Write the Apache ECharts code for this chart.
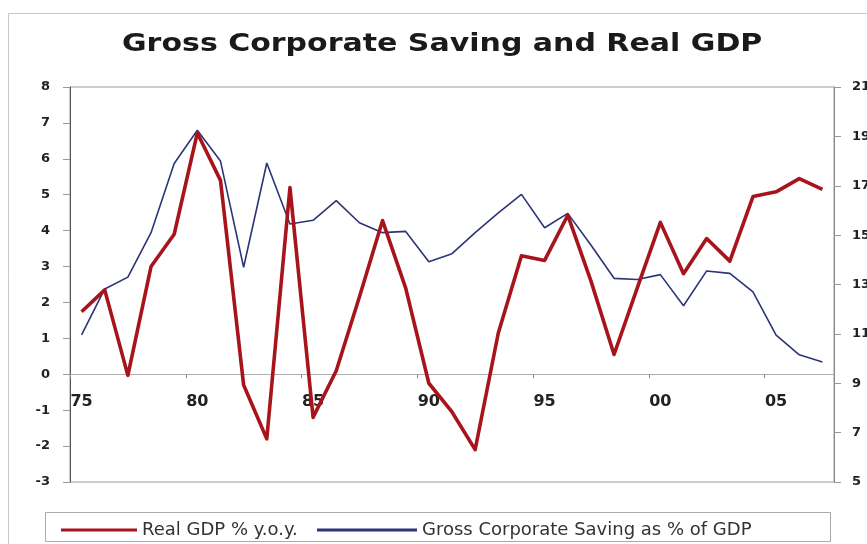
<!DOCTYPE html>
<html>
<head>
<meta charset="utf-8">
<script src="https://cdn.jsdelivr.net/npm/echarts@6/dist/echarts.min.js"></script>
<style>
html,body{margin:0;padding:0;background:#fff;}
#chart{width:867px;height:544px;}
</style>
</head>
<body>
<div id="chart"></div>
<script>
const years = [1975,1976,1977,1978,1979,1980,1981,1982,1983,1984,1985,1986,1987,1988,1989,1990,1991,1992,1993,1994,1995,1996,1997,1998,1999,2000,2001,2002,2003,2004,2005,2006,2007];
const realGDP = [1.74,2.35,-0.03,3.0,3.9,6.72,5.4,-0.3,-1.8,5.2,-1.2,0.1,2.15,4.28,2.4,-0.25,-1.05,-2.1,1.15,3.3,3.17,4.43,2.6,0.55,2.4,4.23,2.8,3.78,3.15,4.95,5.08,5.45,5.15];
const corpSaving = [10.96,12.82,13.3,15.1,17.9,19.25,18.0,13.7,17.92,15.45,15.6,16.4,15.5,15.1,15.15,13.92,14.25,15.1,15.9,16.65,15.3,15.88,14.6,13.25,13.2,13.4,12.14,13.55,13.45,12.7,10.95,10.15,9.86];
const leftTicks = {min:-3, max:8, interval:1};
const rightTicks = {min:5, max:21, interval:2};
const titleText = 'Gross Corporate Saving and Real GDP';
const seriesNames = ['Real GDP % y.o.y.', 'Gross Corporate Saving as % of GDP'];

const chart = echarts.init(document.getElementById('chart'), null, {renderer:'canvas'});
const legendText = {fontFamily:'DejaVu Sans', fontSize:18, color:'#333'};
chart.setOption({
  animation:false,
  backgroundColor:'#fff',
  graphic:[
    {type:'rect', shape:{x:8.5,y:13.5,width:900,height:600}, style:{fill:'none',stroke:'#c8c8c8',lineWidth:1}, z:-1},
    {type:'rect', shape:{x:45.5,y:512.5,width:785,height:29}, style:{fill:'none',stroke:'#aaa',lineWidth:1}},
    {type:'text', x:122, y:32, scaleX:1.2, scaleY:1,
      style:{text:titleText, fontFamily:'DejaVu Sans', fontWeight:'bold', fontSize:25, fill:'#1a1a1a', textVerticalAlign:'top', textAlign:'left'}}
  ],
  legend:[
    {left:56, top:516, itemWidth:76, itemHeight:3, icon:'rect', textStyle:legendText,
      data:[{name:seriesNames[0], itemStyle:{color:'#a8141c'}}]},
    {left:312, top:516, itemWidth:100, itemHeight:3, icon:'rect', textStyle:legendText,
      data:[{name:seriesNames[1], itemStyle:{color:'#2c3577'}}]}
  ],
  grid:{left:70, right:33, top:87, bottom:62, show:true, borderColor:'#9a9a9a', borderWidth:1,
    containLabel:false, outerBoundsMode:'none'},
  xAxis:{
    type:'category', data:years, boundaryGap:true,
    axisLine:{onZero:true, onZeroAxisIndex:0, lineStyle:{color:'#b0b0b0', width:1}},
    axisTick:{show:true, interval:4, length:4, inside:false, lineStyle:{color:'#888'}},
    axisLabel:{interval:4, margin:-88, fontFamily:'DejaVu Sans', fontWeight:'bold', fontSize:16, color:'#222',
      formatter:v=>String(v).slice(2)},
    splitLine:{show:false}
  },
  yAxis:[
    {type:'value', min:leftTicks.min, max:leftTicks.max, interval:leftTicks.interval, position:'left',
      axisLine:{show:true, lineStyle:{color:'#555'}},
      axisTick:{show:true, length:7, lineStyle:{color:'#999'}},
      axisLabel:{margin:20, fontFamily:'DejaVu Sans', fontWeight:'bold', fontSize:13, color:'#222'},
      splitLine:{show:false}},
    {type:'value', min:rightTicks.min, max:rightTicks.max, interval:rightTicks.interval, position:'right',
      axisLine:{show:true, lineStyle:{color:'#888'}},
      axisTick:{show:true, length:7, lineStyle:{color:'#999'}},
      axisLabel:{margin:18, fontFamily:'DejaVu Sans', fontWeight:'bold', fontSize:13, color:'#222'},
      splitLine:{show:false}}
  ],
  series:[
    {name:seriesNames[0], type:'line', yAxisIndex:0, data:realGDP, symbol:'none', z:3,
      lineStyle:{color:'#a8141c', width:3.6, join:'round'}, itemStyle:{color:'#a8141c'}},
    {name:seriesNames[1], type:'line', yAxisIndex:1, data:corpSaving, symbol:'none', z:2,
      lineStyle:{color:'#2c3577', width:1.6}, itemStyle:{color:'#2c3577'}}
  ]
});
</script>
</body>
</html>
